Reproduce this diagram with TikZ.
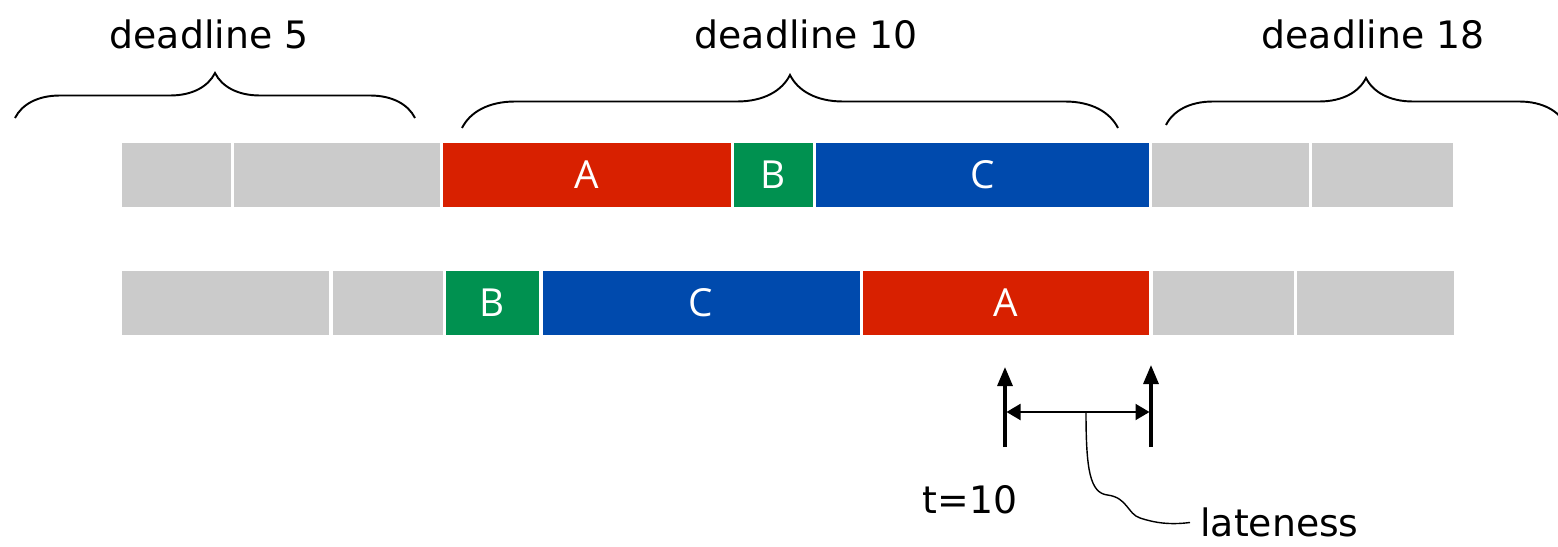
\documentclass[tikz,border=0pt]{standalone}
\usepackage{fontspec}
\setmainfont{DejaVu Sans}
\newfontfamily\boxfont{Open Sans}
\usepackage{xcolor}
\usepackage{tikz}
\usetikzlibrary{positioning,arrows.meta,decorations.pathreplacing}
\definecolor{idlecolor}{HTML}{CBCBCB}
\definecolor{acolor}{HTML}{D82000}
\definecolor{bcolor}{HTML}{009150}
\definecolor{ccolor}{HTML}{004AAD}
\tikzset{
  slot/.style={rectangle, inner sep=0pt, outer sep=0pt, minimum height=1.28cm, text=white, font=\boxfont\fontsize{22pt}{26pt}\selectfont},
  idle/.style={slot, fill=idlecolor},
  joba/.style={slot, fill=acolor},
  jobb/.style={slot, fill=bcolor},
  jobc/.style={slot, fill=ccolor},
  deadline/.style={font=\fontsize{21.5pt}{25pt}\selectfont},
  bracket/.style={decorate, line width=1.1pt},
  markline/.style={line width=1.8pt, -{Triangle[length=0.38cm, width=0.3cm]}},
  spanline/.style={line width=1.1pt, {Triangle[length=0.28cm, width=0.32cm]}-{Triangle[length=0.28cm, width=0.32cm]}},
}

\begin{document}
\begin{tikzpicture}%
\useasboundingbox (0,0) rectangle (31.16,-10.94);%
% first schedule
\node[idle, minimum width=2.18cm, anchor=west] (g11) at (2.44,-3.5) {};%
\node[idle, minimum width=4.12cm, right=0.06cm of g11] (g12) {};%
\node[joba, minimum width=5.76cm, right=0.06cm of g12] (a1) {A};%
\node[jobb, minimum width=1.58cm, right=0.06cm of a1] (b1) {B};%
\node[jobc, minimum width=6.66cm, right=0.06cm of b1] (c1) {C};%
\node[idle, minimum width=3.14cm, right=0.06cm of c1] (g13) {};%
\node[idle, minimum width=2.82cm, right=0.06cm of g13] (g14) {};%
% second schedule
\node[idle, minimum width=4.14cm, anchor=west] (g21) at (2.44,-6.05) {};%
\node[idle, minimum width=2.2cm, right=0.07cm of g21] (g22) {};%
\node[jobb, minimum width=1.86cm, right=0.07cm of g22] (b2) {B};%
\node[jobc, minimum width=6.34cm, right=0.07cm of b2] (c2) {C};%
\node[joba, minimum width=5.72cm, right=0.07cm of c2] (a2) {A};%
\node[idle, minimum width=2.82cm, right=0.07cm of a2] (g23) {};%
\node[idle, minimum width=3.14cm, right=0.07cm of g23] (g24) {};%
% deadlines
\draw[bracket, decoration={brace, amplitude=0.9cm}] (0.30,-2.36) -- (8.30,-2.36);%
\draw[bracket, decoration={brace, amplitude=1.06cm}] (9.24,-2.56) -- (22.36,-2.56);%
\draw[bracket, decoration={brace, amplitude=0.94cm}] (23.32,-2.5) -- (31.32,-2.5);%
\node[deadline] (dl5) at (4.18,-0.69) {deadline 5};%
\node[deadline] (dl10) at (16.12,-0.69) {deadline 10};%
\node[deadline] (dl18) at (27.46,-0.69) {deadline 18};%
% lateness of A
\coordinate (tlo) at (20.10,-8.94);%
\coordinate (thi) at (20.10,-7.34);%
\coordinate (dlo) at (23.02,-8.94);%
\coordinate (dhi) at (23.02,-7.30);%
\coordinate (lstart) at (20.13,-8.24);%
\coordinate (lend) at (22.99,-8.24);%
\coordinate (lmid) at (21.72,-8.24);%
\draw[markline] (tlo) -- (thi);%
\draw[markline] (dlo) -- (dhi);%
\draw[spanline] (lstart) -- (lend);%
\node[deadline] (t10) at (19.4,-10.0) {t=10};%
\node[deadline, anchor=west, inner sep=0pt] (late) at (24.0,-10.45) {lateness};%
\draw[line width=0.8pt] (lmid) .. controls (21.72,-9.4) and (21.8,-9.86) .. (22.15,-9.9) .. controls (22.55,-9.95) and (22.55,-10.28) .. (22.8,-10.36) .. controls (23.1,-10.46) and (23.4,-10.5) .. ([xshift=-0.2cm]late.west);%
\end{tikzpicture}
\end{document}
